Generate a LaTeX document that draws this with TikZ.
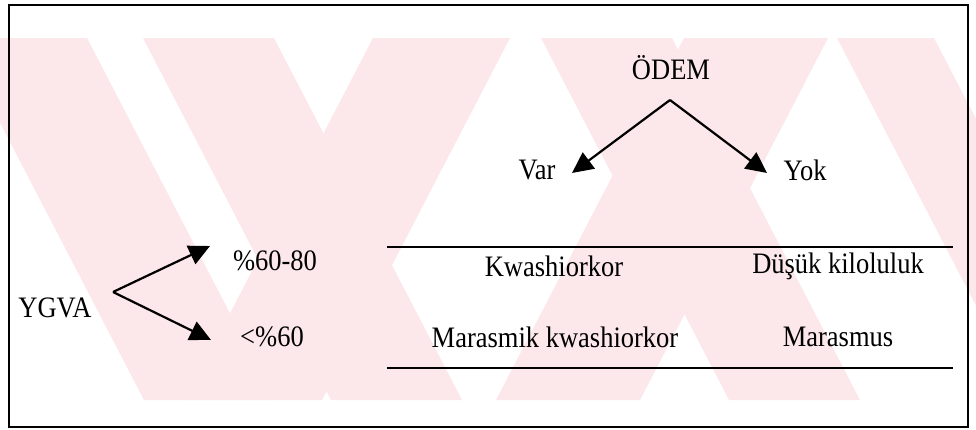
\documentclass[tikz,border=0pt]{standalone}
\usepackage{fontspec}
\setmainfont{Liberation Serif}
\usetikzlibrary{arrows.meta}
\definecolor{wmpink}{RGB}{252,231,235}
\newcommand{\tall}[1]{\scalebox{1}[1.12]{#1}}
\begin{document}
\begin{tikzpicture}[x=1pt,y=-1pt,
  lbl/.style={inner sep=0pt,font=\fontsize{26.5}{30}\selectfont},
  arr/.style={line width=2.2pt,-{Triangle[length=21pt,width=20pt]}},
  rule/.style={line width=2.8pt},
  frame/.style={line width=2pt},
  wm/.style={fill=wmpink,draw=none}]
\useasboundingbox (0,0) rectangle (976,429);
% watermark (diagonal bands)
\begin{scope}
\clip (0,38) rectangle (976,400);
\fill[wm] (-44,38) -- (87,38) -- (275,400) -- (144,400) -- cycle;
\fill[wm] (143,38) -- (274,38) -- (462,400) -- (331,400) -- cycle;
\fill[wm] (373,38) -- (510,38) -- (322,400) -- (185,400) -- cycle;
\fill[wm] (541,38) -- (672,38) -- (860,400) -- (729,400) -- cycle;
\fill[wm] (684,38) -- (828,38) -- (640,400) -- (496,400) -- cycle;
\fill[wm] (837,38) -- (934,38) -- (1122,400) -- (1025,400) -- cycle;
\end{scope}
\draw[frame] (9,5) rectangle (968,427);
% ODEM branch
\node[lbl] (odem) at (671,68) {\tall{ÖDEM}};
\coordinate (apx) at (670,100);
\node[lbl] (var) at (537,170) {\tall{Var}};
\node[lbl] (yok) at (805,170) {\tall{Yok}};
\coordinate (vartip) at (572,173);
\coordinate (yoktip) at (767,173);
\draw[arr] (apx) -- (vartip);
\draw[arr] (apx) -- (yoktip);
% YGVA branch
\node[lbl] (ygva) at (55,308) {\tall{YGVA}};
\coordinate (lapx) at (113,292);
\node[lbl] (hi) at (275,261) {\tall{\%60-80}};
\node[lbl] (lo) at (272,337) {\tall{<\%60}};
\coordinate (hitip) at (210,246);
\coordinate (lotip) at (211,340);
\draw[arr] (lapx) -- (hitip);
\draw[arr] (lapx) -- (lotip);
% table
\coordinate (t1a) at (387,247);
\coordinate (t1b) at (953,247);
\coordinate (t2a) at (387,368);
\coordinate (t2b) at (953,368);
\draw[rule] (t1a) -- (t1b);
\draw[rule] (t2a) -- (t2b);
\node[lbl] (kw) at (554,266) {\tall{Kwashiorkor}};
\node[lbl] (dk) at (838,266) {\tall{Düşük kiloluluk}};
\node[lbl] (mk) at (555,337) {\tall{Marasmik kwashiorkor}};
\node[lbl] (ma) at (838,337) {\tall{Marasmus}};
\end{tikzpicture}
\end{document}
